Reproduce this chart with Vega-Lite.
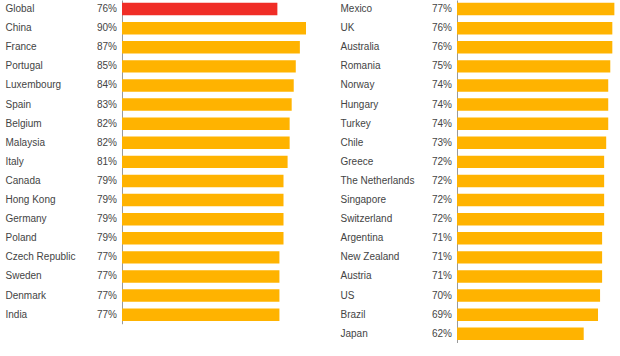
{
  "$schema": "https://vega.github.io/schema/vega-lite/v6.json",
  "padding": {"left": 5, "top": 0, "right": 0, "bottom": 0},
  "background": "white",
  "config": {
    "view": {"stroke": null},
    "font": "Liberation Sans",
    "axis": {"grid": false}
  },
  "datasets": {
    "left": [
      {"country": "Global", "v": 0.76},
      {"country": "China", "v": 0.90},
      {"country": "France", "v": 0.87},
      {"country": "Portugal", "v": 0.85},
      {"country": "Luxembourg", "v": 0.84},
      {"country": "Spain", "v": 0.83},
      {"country": "Belgium", "v": 0.82},
      {"country": "Malaysia", "v": 0.82},
      {"country": "Italy", "v": 0.81},
      {"country": "Canada", "v": 0.79},
      {"country": "Hong Kong", "v": 0.79},
      {"country": "Germany", "v": 0.79},
      {"country": "Poland", "v": 0.79},
      {"country": "Czech Republic", "v": 0.77},
      {"country": "Sweden", "v": 0.77},
      {"country": "Denmark", "v": 0.77},
      {"country": "India", "v": 0.77}
    ],
    "right": [
      {"country": "Mexico", "v": 0.77},
      {"country": "UK", "v": 0.76},
      {"country": "Australia", "v": 0.76},
      {"country": "Romania", "v": 0.75},
      {"country": "Norway", "v": 0.74},
      {"country": "Hungary", "v": 0.74},
      {"country": "Turkey", "v": 0.74},
      {"country": "Chile", "v": 0.73},
      {"country": "Greece", "v": 0.72},
      {"country": "The Netherlands", "v": 0.72},
      {"country": "Singapore", "v": 0.72},
      {"country": "Switzerland", "v": 0.72},
      {"country": "Argentina", "v": 0.71},
      {"country": "New Zealand", "v": 0.71},
      {"country": "Austria", "v": 0.71},
      {"country": "US", "v": 0.70},
      {"country": "Brazil", "v": 0.69},
      {"country": "Japan", "v": 0.62}
    ]
  },
  "spacing": 34,
  "hconcat": [
    {
      "data": {"name": "left"},
      "width": 184,
      "height": {"step": 19.1},
      "encoding": {
        "y": {
          "field": "country", "type": "nominal", "sort": null,
          "scale": {"paddingInner": 0.35, "paddingOuter": 0.15},
          "axis": {"title": null, "ticks": false, "labelAlign": "left", "labelPadding": 117,
                   "labelFontSize": 10, "labelColor": "#444444", "domainColor": "#9a9a9a", "domainWidth": 1}
        }
      },
      "layer": [
        {
          "mark": {"type": "bar"},
          "encoding": {
            "x": {"field": "v", "type": "quantitative", "scale": {"domain": [0, 0.9]}, "axis": null},
            "color": {"condition": {"test": "datum.country === 'Global'", "value": "#F02D26"}, "value": "#FFB300"}
          }
        },
        {
          "mark": {"type": "text", "align": "right", "baseline": "middle", "dx": -5, "fontSize": 10, "color": "#444444"},
          "encoding": {
            "x": {"datum": 0, "type": "quantitative"},
            "text": {"field": "v", "type": "quantitative", "format": ".0%"}
          }
        }
      ]
    },
    {
      "data": {"name": "right"},
      "width": 163.5,
      "height": {"step": 19.1},
      "encoding": {
        "y": {
          "field": "country", "type": "nominal", "sort": null,
          "scale": {"paddingInner": 0.35, "paddingOuter": 0.15},
          "axis": {"title": null, "ticks": false, "labelAlign": "left", "labelPadding": 117,
                   "labelFontSize": 10, "labelColor": "#444444", "domainColor": "#9a9a9a", "domainWidth": 1}
        }
      },
      "layer": [
        {
          "mark": {"type": "bar"},
          "encoding": {
            "x": {"field": "v", "type": "quantitative", "scale": {"domain": [0, 0.8]}, "axis": null},
            "color": {"value": "#FFB300"}
          }
        },
        {
          "mark": {"type": "text", "align": "right", "baseline": "middle", "dx": -5, "fontSize": 10, "color": "#444444"},
          "encoding": {
            "x": {"datum": 0, "type": "quantitative"},
            "text": {"field": "v", "type": "quantitative", "format": ".0%"}
          }
        }
      ]
    }
  ]
}
